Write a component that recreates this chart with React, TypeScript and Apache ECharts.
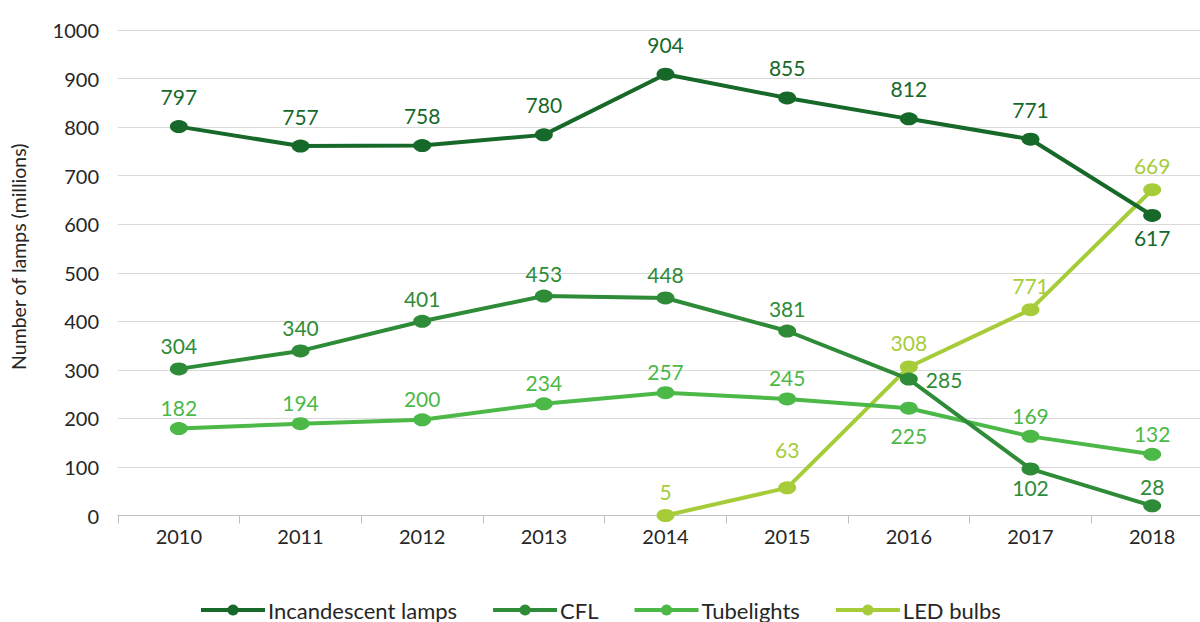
import React, { useEffect, useRef } from "react";
import * as echarts from "echarts";

const years = ["2010", "2011", "2012", "2013", "2014", "2015", "2016", "2017", "2018"];

const incandescentValues = [801, 761, 762, 784, 909, 860, 817, 775, 618];
const incandescentLabels = ["797", "757", "758", "780", "904", "855", "812", "771", "617"];

const cflValues = [302, 339, 400, 452, 448, 380, 281, 96, 20];
const cflLabels = ["304", "340", "401", "453", "448", "381", "285", "102", "28"];

const tubeValues = [179, 189, 197, 230, 253, 240, 221, 163, 126];
const tubeLabels = ["182", "194", "200", "234", "257", "245", "225", "169", "132"];

const ledValues = [null, null, null, null, 0, 57, 306, 424, 671];
const ledLabels = ["", "", "", "", "5", "63", "308", "771", "669"];

const seriesNames = ["Incandescent lamps", "CFL", "Tubelights", "LED bulbs"];
const colors = ["#17692a", "#2e8b37", "#4cb848", "#a6cd39"];

const FONT = "Lato, 'Open Sans', sans-serif";

type LabelRule = { position: string; distance: number };

const defaultRules: LabelRule[] = [
  { position: "top", distance: 13 },
  { position: "top", distance: 6 },
  { position: "top", distance: 4 },
  { position: "top", distance: 7 },
];

const overrides: Record<string, LabelRule>[] = [
  { "8": { position: "bottom", distance: 5 } },
  {
    "6": { position: "right", distance: 8 },
    "7": { position: "bottom", distance: 2 },
    "8": { position: "top", distance: 2 },
  },
  { "6": { position: "bottom", distance: 10 } },
  { "5": { position: "top", distance: 21 } },
];

export default function App() {
  const ref = useRef<HTMLDivElement>(null);
  useEffect(() => {
    if (!ref.current) return;
    const chart = echarts.init(ref.current, undefined, { renderer: "svg" });
    const valuesList = [incandescentValues, cflValues, tubeValues, ledValues];
    const labelsList = [incandescentLabels, cflLabels, tubeLabels, ledLabels];

    const series = valuesList.map((vals, si) => ({
      name: seriesNames[si],
      type: "line",
      data: vals.map((v, i) => {
        const rule = overrides[si][String(i)] || defaultRules[si];
        return {
          value: v,
          label: {
            show: v !== null,
            position: rule.position,
            distance: rule.distance,
            formatter: () => labelsList[si][i],
          },
        };
      }),
      symbol: "circle",
      symbolSize: [18, 13],
      showAllSymbol: true,
      lineStyle: { width: 4, color: colors[si] },
      itemStyle: { color: colors[si] },
      label: {
        color: colors[si],
        fontSize: 21,
        fontFamily: FONT,
      },
      emphasis: { disabled: true },
      z: 10 - si,
    }));

    chart.setOption({
      animation: false,
      color: colors,
      grid: {
        left: 118,
        right: -13,
        top: 30,
        bottom: 106.5,
        containLabel: false,
        outerBoundsMode: "none",
      },
      legend: {
        top: 599,
        left: 199,
        padding: 0,
        itemWidth: 64,
        itemHeight: 14,
        itemGap: 34,
        lineStyle: { width: 4 },
        textStyle: {
          fontSize: 22,
          lineHeight: 21,
          fontFamily: FONT,
          color: "#262626",
          padding: [0, 0, 0, -2],
        },
        data: seriesNames,
      },
      xAxis: {
        type: "category",
        data: years,
        boundaryGap: true,
        axisLine: { lineStyle: { color: "#bfbfbf", width: 1 } },
        axisTick: { show: true, length: 8, lineStyle: { color: "#bfbfbf" } },
        axisLabel: { fontSize: 20, fontFamily: FONT, color: "#262626", margin: 10 },
      },
      yAxis: {
        type: "value",
        min: 0,
        max: 1000,
        interval: 100,
        name: "Number of lamps (millions)",
        nameLocation: "middle",
        nameGap: 90,
        nameTextStyle: { fontSize: 19.5, fontFamily: FONT, color: "#262626", padding: [0, 0, 0, 32] },
        axisLine: { show: false },
        axisTick: { show: false },
        splitLine: { lineStyle: { color: "#d9d9d9", width: 1 } },
        axisLabel: {
          fontSize: 20,
          fontFamily: FONT,
          color: "#262626",
          margin: 19,
          formatter: (v: number) => String(v),
        },
      },
      series,
    });
    return () => chart.dispose();
  }, []);
  return <div ref={ref} style={{ width: 1200, height: 622, position: "absolute", left: 0, top: 0 }} />;
}
